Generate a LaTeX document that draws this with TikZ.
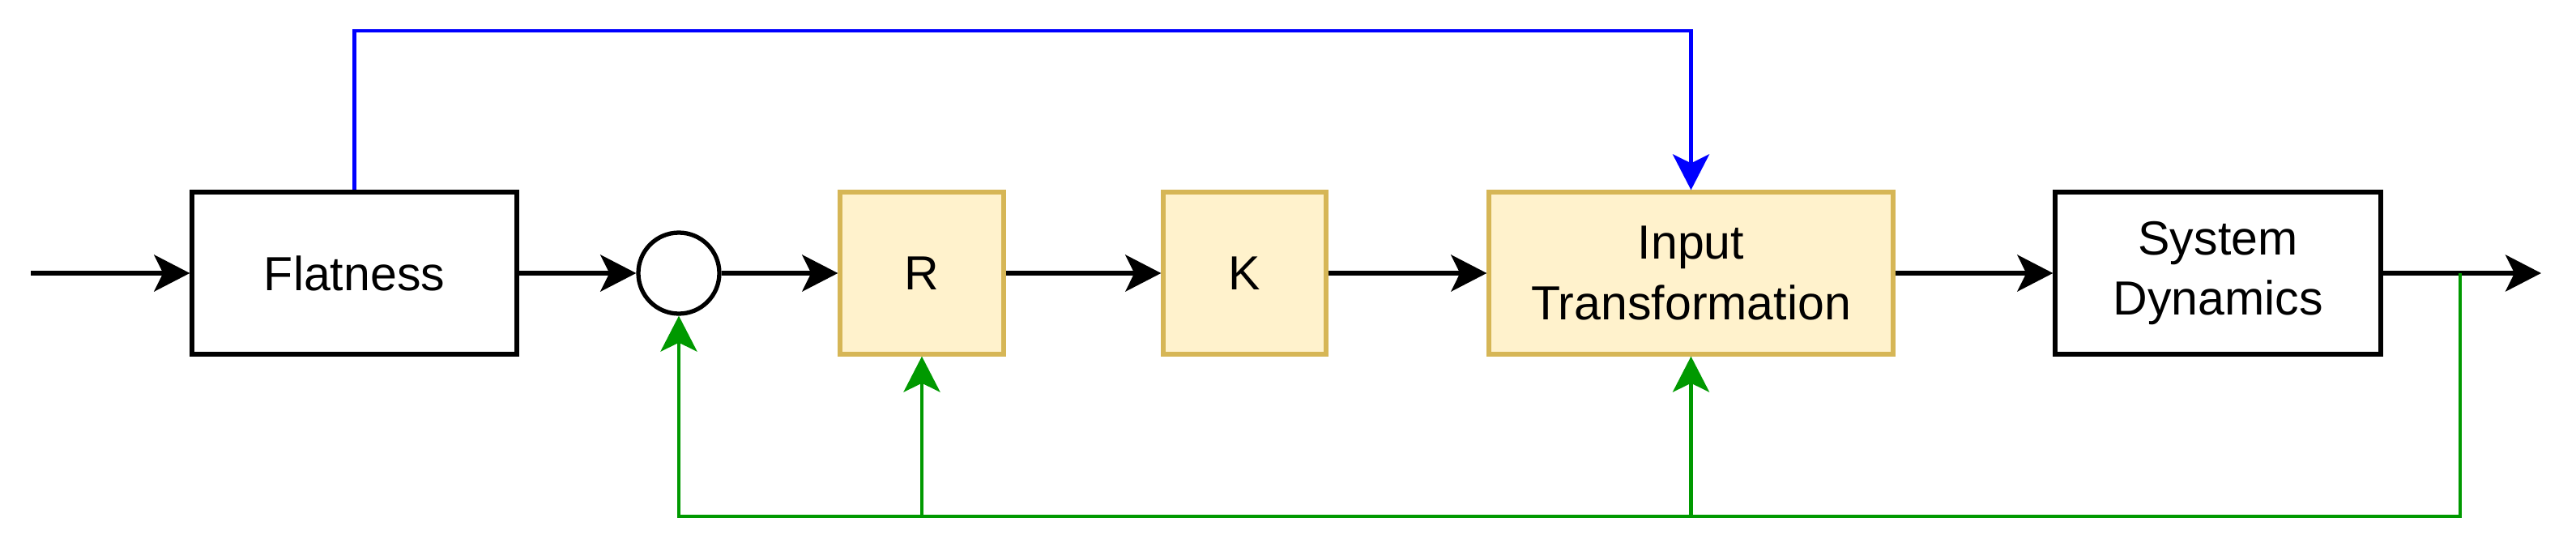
\documentclass[tikz,border=0pt]{standalone}
\usepackage{fontspec}
\setmainfont{Liberation Sans}
\usepackage{tikz}
\usetikzlibrary{arrows.meta}
\definecolor{ctrlfill}{HTML}{FFF2CC}
\definecolor{ctrldraw}{HTML}{D6B656}
\definecolor{fbgreen}{HTML}{009900}
\definecolor{ffblue}{HTML}{0000FF}
\tikzstyle{block} = [draw,line width=1.5pt,inner sep=0,minimum height=2cm,align=center]
\tikzstyle{ctrl} = [block,draw=ctrldraw,fill=ctrlfill]
\tikzstyle{fb} = [draw=fbgreen,line width=1.4pt]
\tikzstyle{ff} = [draw=ffblue,line width=1.4pt]

\begin{document}
\begin{tikzpicture}[font=\fontsize{16.8}{21.3}\selectfont,>={Stealth[length=0.44cm,width=0.45cm,inset=0.11cm]},sig/.style={->,line width=1.7pt}]
    \useasboundingbox (0,0) rectangle (31.8,6.8);

    \coordinate (in) at (0.38,3.43);
    \node[block,minimum width=4.01cm] (flat) at (4.375,3.43) {Flatness};
    \node[circle,draw,line width=1.5pt,minimum size=1cm,inner sep=0] (sum) at (8.38,3.43) {};
    \node[ctrl,minimum width=2.02cm] (R) at (11.38,3.43) {R};
    \node[ctrl,minimum width=2.01cm] (K) at (15.365,3.43) {K};
    \node[ctrl,minimum width=4.99cm] (it) at (20.875,3.43) {Input\\Transformation};
    \node[block,minimum width=4.02cm] (sys) at (27.38,3.43) {System\\Dynamics};
    \coordinate (out) at (31.37,3.43);
    \coordinate (tap) at (30.37,3.43);
    \coordinate (bot) at (30.37,0.43);
    \coordinate (top) at (20.875,6.42);

    \draw[sig] (in) -- (flat);
    \draw[sig] (flat) -- (sum);
    \draw[sig] (sum) -- (R);
    \draw[sig] (R) -- (K);
    \draw[sig] (K) -- (it);
    \draw[sig] (it) -- (sys);
    \draw[sig] (sys) -- (out);

    \draw[ff,->] (flat.north) |- (top) -- (it);

    \draw[fb,->] (tap) -- (bot) -| (sum);
    \draw[fb,->] (R.south |- bot) -- (R);
    \draw[fb,->] (it.south |- bot) -- (it);

\end{tikzpicture}
\end{document}
